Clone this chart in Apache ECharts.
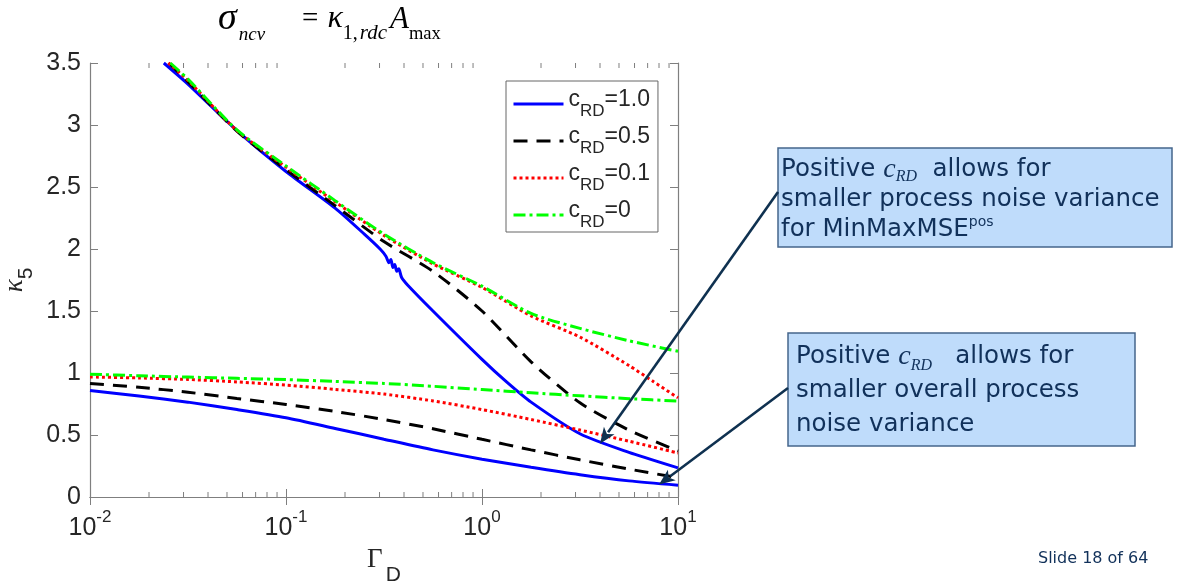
<!DOCTYPE html>
<html>
<head>
<meta charset="utf-8">
<script src="https://cdn.jsdelivr.net/npm/echarts@6/dist/echarts.min.js"></script>
<style>
html,body{margin:0;padding:0;background:#fff;}
#chart{width:1181px;height:583px;}
</style>
</head>
<body>
<div id="chart"></div>
<script>
// ---- data ----
const legendNames = ['cRD=1.0', 'cRD=0.5', 'cRD=0.1', 'cRD=0'];

// lower family (shared Gamma_D grid)
const gammaLower = [0.01, 0.0178, 0.0316, 0.0562, 0.1, 0.178, 0.316, 0.562, 1, 1.78, 3.16, 5.62, 10];
const lowerC10 = [0.858, 0.815, 0.765, 0.705, 0.639, 0.553, 0.466, 0.38, 0.305, 0.24, 0.18, 0.13, 0.095];
const lowerC05 = [0.915, 0.885, 0.845, 0.795, 0.746, 0.69, 0.625, 0.55, 0.465, 0.38, 0.30, 0.225, 0.155];
const lowerC01 = [0.968, 0.96, 0.948, 0.928, 0.902, 0.868, 0.83, 0.775, 0.705, 0.625, 0.54, 0.45, 0.355];
const lowerC00 = [0.99, 0.978, 0.967, 0.957, 0.947, 0.932, 0.916, 0.893, 0.866, 0.84, 0.816, 0.793, 0.773];

// upper family
const gammaUpperC10 = [0.0238, 0.0316, 0.0562, 0.1, 0.178, 0.251, 0.302, 0.324, 0.335, 0.343, 0.351, 0.359, 0.367, 0.376, 0.389, 0.417, 0.562, 1, 1.33, 1.78, 3.16, 5.62, 10];
const upperC10 = [3.5, 3.33, 2.955, 2.625, 2.33, 2.12, 2.0, 1.94, 1.89, 1.915, 1.85, 1.875, 1.82, 1.84, 1.77, 1.71, 1.50, 1.11, 0.93, 0.765, 0.51, 0.36, 0.235];
const gammaUpperC05 = [0.0252, 0.0316, 0.0562, 0.1, 0.178, 0.316, 0.562, 1, 1.78, 3.16, 5.62, 10];
const upperC05 = [3.5, 3.35, 2.95, 2.64, 2.35, 2.06, 1.82, 1.50, 1.09, 0.76, 0.54, 0.37];
const gammaUpperC01 = [0.0251, 0.0316, 0.0562, 0.1, 0.178, 0.316, 0.562, 1, 1.78, 3.16, 5.62, 7.5, 10];
const upperC01 = [3.5, 3.36, 2.955, 2.66, 2.38, 2.11, 1.88, 1.69, 1.46, 1.29, 1.06, 0.93, 0.80];
const gammaUpperC00 = [0.0257, 0.0316, 0.0562, 0.1, 0.178, 0.316, 0.562, 1, 1.78, 3.16, 5.62, 10];
const upperC00 = [3.5, 3.37, 2.96, 2.67, 2.39, 2.12, 1.89, 1.70, 1.48, 1.36, 1.26, 1.175];

// minor ticks of the log axis
const minorGamma = [0.02,0.03,0.04,0.05,0.06,0.07,0.08,0.09,0.2,0.3,0.4,0.5,0.6,0.7,0.8,0.9,2,3,4,5,6,7,8,9];

// arrow tips (data coordinates)
const arrowTip1 = [4.0, 0.43];
const arrowTip2 = [8.0, 0.10];

// ---- styles ----
const styles = {
  'cRD=1.0': {color:'#0000ff', type:'solid'},
  'cRD=0.5': {color:'#000000', type:[14, 9]},
  'cRD=0.1': {color:'#ff0000', type:[3, 3]},
  'cRD=0':   {color:'#00ff00', type:[12, 4, 3, 4]}
};
function zip(xs, ys){ return xs.map((x,i)=>[x, ys[i]]); }
function lineSeries(name, xs, ys){
  const s = styles[name];
  return {
    name: name, type:'line', data: zip(xs, ys), showSymbol:false, symbol:'none',
    smooth: 0.25, clip:true, silent:true,
    lineStyle:{color:s.color, width:3, type:s.type},
    itemStyle:{color:s.color}
  };
}

const axisColor = '#7f7f7f';
const labelColor = '#262626';
const sans = 'Liberation Sans, Arial, sans-serif';
const serif = 'Liberation Serif, Times New Roman, serif';

const chart = echarts.init(document.getElementById('chart'), null, {renderer:'canvas'});

const option = {
  animation:false,
  backgroundColor:'#ffffff',
  grid:{left:90, right:503, top:63, bottom:86, containLabel:false, outerBoundsMode:'none'},
  xAxis:[{
    type:'log', logBase:10, min:0.01, max:10, position:'bottom',
    axisLine:{show:true, lineStyle:{color:axisColor, width:1.2}},
    axisTick:{show:true, inside:true, length:8, lineStyle:{color:axisColor}},
    splitLine:{show:false},
    axisLabel:{
      margin:12, color:labelColor,
      formatter:function(v){ const e = Math.round(Math.log10(v)); return '{b|10}{s|' + e + '}'; },
      rich:{
        b:{fontFamily:sans, fontSize:25, color:labelColor, verticalAlign:'bottom', lineHeight:32},
        s:{fontFamily:sans, fontSize:17, color:labelColor, verticalAlign:'top', lineHeight:32}
      }
    },
    name:'{g|Γ}{d|D}', nameLocation:'middle', nameGap:49,
    nameTextStyle:{
      rich:{
        g:{fontFamily:serif, fontSize:27, color:labelColor, verticalAlign:'top', lineHeight:40},
        d:{fontFamily:sans, fontSize:21, color:labelColor, verticalAlign:'bottom', lineHeight:40, padding:[0,0,0,3]}
      }
    }
  },{
    type:'log', logBase:10, min:0.01, max:10, position:'top',
    axisLine:{show:true, lineStyle:{color:axisColor, width:1.2}},
    axisTick:{show:true, inside:true, length:8, lineStyle:{color:axisColor}},
    axisLabel:{show:false}, splitLine:{show:false}
  }],
  yAxis:[{
    type:'value', min:0, max:3.5, interval:0.5, position:'left',
    axisLine:{show:true, lineStyle:{color:axisColor, width:1.2}},
    axisTick:{show:true, inside:true, length:8, lineStyle:{color:axisColor}},
    splitLine:{show:false},
    axisLabel:{margin:9, color:labelColor, fontFamily:sans, fontSize:25},
    name:'{k|κ}{n|5}', nameLocation:'middle', nameGap:53, nameRotate:90,
    nameTextStyle:{
      rich:{
        k:{fontFamily:serif, fontStyle:'italic', fontSize:27, color:labelColor, verticalAlign:'top', lineHeight:36},
        n:{fontFamily:sans, fontSize:21, color:labelColor, verticalAlign:'bottom', lineHeight:36}
      }
    }
  },{
    type:'value', min:0, max:3.5, interval:0.5, position:'right',
    axisLine:{show:true, lineStyle:{color:axisColor, width:1.2}},
    axisTick:{show:true, inside:true, length:8, lineStyle:{color:axisColor}},
    axisLabel:{show:false}, splitLine:{show:false}
  }],
  legend:{
    orient:'vertical', left:506, top:81,
    backgroundColor:'#ffffff', borderColor:'#666666', borderWidth:1, borderRadius:0,
    padding:[7, 8, 1, 6], itemWidth:50, itemHeight:14, itemGap:5,
    data: legendNames, selectedMode:false,
    itemStyle:{opacity:0},
    lineStyle:{width:3},
    formatter:function(name){ return '{c|c}{r|RD}{c|' + name.slice(3) + '}'; },
    textStyle:{
      rich:{
        c:{fontFamily:sans, fontSize:23, color:labelColor, verticalAlign:'top', lineHeight:32},
        r:{fontFamily:sans, fontSize:17, color:labelColor, verticalAlign:'bottom', lineHeight:32}
      }
    }
  },
  series:[
    lineSeries('cRD=1.0', gammaUpperC10, upperC10),
    lineSeries('cRD=1.0', gammaLower, lowerC10),
    lineSeries('cRD=0.5', gammaUpperC05, upperC05),
    lineSeries('cRD=0.5', gammaLower, lowerC05),
    lineSeries('cRD=0.1', gammaUpperC01, upperC01),
    lineSeries('cRD=0.1', gammaLower, lowerC01),
    lineSeries('cRD=0', gammaUpperC00, upperC00),
    lineSeries('cRD=0', gammaLower, lowerC00),
    {
      type:'custom', silent:true, clip:false, z:1,
      data: minorGamma.map(g=>[g, 0]),
      renderItem:function(params, api){
        const x = api.value(0);
        const pb = api.coord([x, 0]);
        const pt = api.coord([x, 3.5]);
        const st = {stroke:axisColor, lineWidth:1};
        return {type:'group', children:[
          {type:'line', shape:{x1:pb[0], y1:pb[1], x2:pb[0], y2:pb[1]-5}, style:st},
          {type:'line', shape:{x1:pt[0], y1:pt[1], x2:pt[0], y2:pt[1]+5}, style:st}
        ]};
      }
    }
  ]
};
chart.setOption(option);

// ---- annotations ----
const navy = '#0f3150';
const textNavy = '#11315a';
const boxFont = 'DejaVu Sans, Verdana, sans-serif';

function arrow(from, tipData){
  const tip = chart.convertToPixel({xAxisIndex:0, yAxisIndex:0}, tipData);
  const dx = tip[0]-from[0], dy = tip[1]-from[1];
  const len = Math.sqrt(dx*dx+dy*dy);
  const ux = dx/len, uy = dy/len;
  const hl = 16, hw = 6.5;
  const bx = tip[0]-ux*hl, by = tip[1]-uy*hl;
  return [
    {type:'line', z:100, shape:{x1:from[0], y1:from[1], x2:bx+ux*2, y2:by+uy*2}, style:{stroke:navy, lineWidth:2.6}},
    {type:'polygon', z:100, shape:{points:[[tip[0],tip[1]],[bx-uy*hw, by+ux*hw],[bx+ux*4, by+uy*4],[bx+uy*hw, by-ux*hw]]}, style:{fill:navy}}
  ];
}

const boxRich = {
  t:{fontFamily:boxFont, fontSize:24.5, fill:textNavy},
  c:{fontFamily:serif, fontStyle:'italic', fontSize:28, fill:textNavy},
  r:{fontFamily:serif, fontStyle:'italic', fontSize:16, fill:textNavy, verticalAlign:'bottom', lineHeight:30, padding:[10,0,0,0]},
  p:{fontFamily:boxFont, fontSize:14, fill:textNavy, verticalAlign:'top', lineHeight:30}
};

const titleRich = {
  s:{fontFamily:serif, fontStyle:'italic', fontSize:38, fill:'#000', lineHeight:44, verticalAlign:'top'},
  n:{fontFamily:serif, fontStyle:'italic', fontSize:19, fill:'#000', lineHeight:44, verticalAlign:'bottom', padding:[0,0,0,2]},
  g:{fontFamily:serif, fontSize:18, lineHeight:44, width:37},
  e:{fontFamily:serif, fontSize:29, fill:'#000', lineHeight:44, verticalAlign:'top', padding:[5,0,0,0]},
  k:{fontFamily:serif, fontStyle:'italic', fontSize:32, fill:'#000', lineHeight:44, verticalAlign:'top', padding:[3,0,0,9]},
  o:{fontFamily:serif, fontSize:20, fill:'#000', lineHeight:44, verticalAlign:'bottom'},
  r:{fontFamily:serif, fontStyle:'italic', fontSize:21, fill:'#000', lineHeight:44, verticalAlign:'bottom', padding:[0,0,0,2]},
  a:{fontFamily:serif, fontStyle:'italic', fontSize:31, fill:'#000', lineHeight:44, verticalAlign:'top', padding:[4,0,0,3]},
  m:{fontFamily:serif, fontSize:18.5, fill:'#000', lineHeight:44, verticalAlign:'bottom'}
};

const graphics = [
  // title
  {type:'text', x:218, y:0, z:100, style:{
    text:'{s|σ}{n|ncv}{g| }{e|=}{k|κ}{o|1,}{r|rdc}{a|A}{m|max}',
    rich:titleRich
  }},
  // box 1
  {type:'rect', z:99, shape:{x:778, y:148, width:394, height:99}, style:{fill:'#bfdcfb', stroke:'#45668c', lineWidth:1.5}},
  {type:'text', z:100, x:781, y:155, style:{
    text:'{t|Positive }{c|c}{r|RD}{t|  allows for}\n{t|smaller process noise variance}\n{t|for MinMaxMSE}{p|pos}',
    rich:boxRich, lineHeight:30
  }},
  // box 2
  {type:'rect', z:99, shape:{x:788, y:333, width:347, height:113}, style:{fill:'#bfdcfb', stroke:'#45668c', lineWidth:1.5}},
  {type:'text', z:100, x:796, y:340, style:{
    text:'{t|Positive }{c|c}{r|RD}{t|   allows for}\n{t|smaller overall process}\n{t|noise variance}',
    rich:boxRich, lineHeight:34
  }},
  // slide number
  {type:'text', z:100, x:1038, y:551, style:{text:'Slide 18 of 64', fontFamily:boxFont, fontSize:16, fill:textNavy}}
].concat(arrow([778,192], arrowTip1), arrow([788,388], arrowTip2));

chart.setOption({graphic:graphics});
</script>
</body>
</html>
